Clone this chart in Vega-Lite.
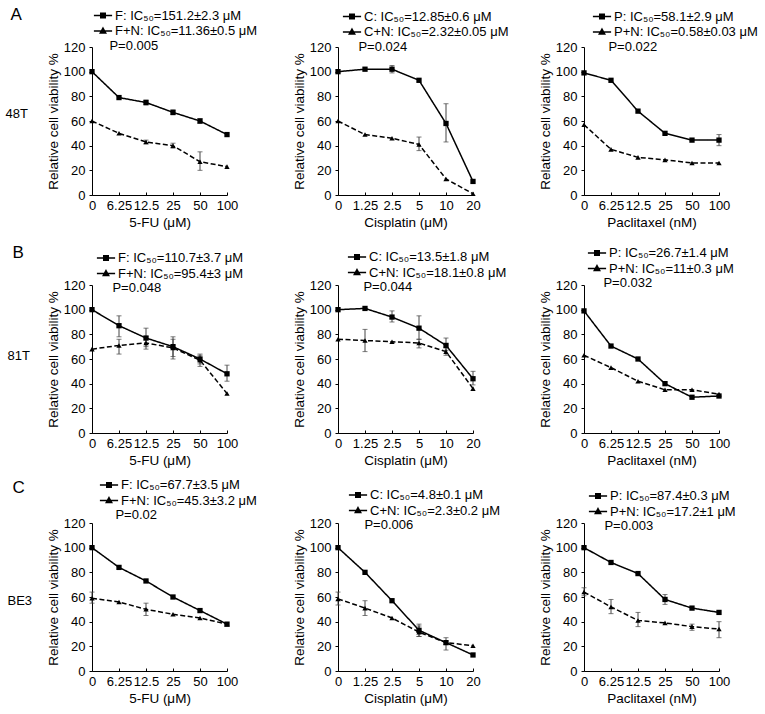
{
"$schema": "https://vega.github.io/schema/vega-lite/v6.json",
"padding": {"left": 5, "top": 5, "right": 5, "bottom": 5},
"background": "white",
"config": {
  "font": "Liberation Sans",
  "view": {"stroke": null},
  "axis": {"grid": false, "domainColor": "black", "tickColor": "black", "labelColor": "black", "titleColor": "black", "labelFontSize": 13, "titleFontSize": 13.5, "titleFontWeight": "normal"},
  "axisX": {"labelAngle": 0, "labelOverlap": false, "labelFlush": false, "labelBound": false, "tickSize": -3, "labelPadding": 7, "titlePadding": 3},
  "axisY": {"tickSize": 3, "labelPadding": 4, "titlePadding": 3},
  "legend": {"orient": "none", "titleOrient": "bottom", "titleFontWeight": "normal", "titleFontSize": 13, "labelFontSize": 13, "titleColor": "black", "labelColor": "black", "symbolSize": 196, "symbolOpacity": 1, "symbolStrokeWidth": 1.4, "rowPadding": 0.5, "labelOffset": 4, "titlePadding": 1, "padding": 0}
},
"datasets": {"all": [
{"p":"A1","d":"0","s":"F: IC₅₀=151.2±2.3 μM","v":100},
{"p":"A1","d":"6.25","s":"F: IC₅₀=151.2±2.3 μM","v":79},
{"p":"A1","d":"12.5","s":"F: IC₅₀=151.2±2.3 μM","v":75,"lo":73,"hi":77},
{"p":"A1","d":"25","s":"F: IC₅₀=151.2±2.3 μM","v":67,"lo":65,"hi":69},
{"p":"A1","d":"50","s":"F: IC₅₀=151.2±2.3 μM","v":60,"lo":58,"hi":62},
{"p":"A1","d":"100","s":"F: IC₅₀=151.2±2.3 μM","v":49},
{"p":"A1","d":"0","s":"F+N: IC₅₀=11.36±0.5 μM","v":60},
{"p":"A1","d":"6.25","s":"F+N: IC₅₀=11.36±0.5 μM","v":50},
{"p":"A1","d":"12.5","s":"F+N: IC₅₀=11.36±0.5 μM","v":43,"lo":41.5,"hi":44.5},
{"p":"A1","d":"25","s":"F+N: IC₅₀=11.36±0.5 μM","v":40,"lo":38,"hi":42},
{"p":"A1","d":"50","s":"F+N: IC₅₀=11.36±0.5 μM","v":27,"lo":20,"hi":35},
{"p":"A1","d":"100","s":"F+N: IC₅₀=11.36±0.5 μM","v":23},
{"p":"A2","d":"0","s":"C: IC₅₀=12.85±0.6 μM","v":100},
{"p":"A2","d":"1.25","s":"C: IC₅₀=12.85±0.6 μM","v":102},
{"p":"A2","d":"2.5","s":"C: IC₅₀=12.85±0.6 μM","v":102,"lo":99,"hi":105},
{"p":"A2","d":"5","s":"C: IC₅₀=12.85±0.6 μM","v":93},
{"p":"A2","d":"10","s":"C: IC₅₀=12.85±0.6 μM","v":58,"lo":43,"hi":74},
{"p":"A2","d":"20","s":"C: IC₅₀=12.85±0.6 μM","v":11},
{"p":"A2","d":"0","s":"C+N: IC₅₀=2.32±0.05 μM","v":60},
{"p":"A2","d":"1.25","s":"C+N: IC₅₀=2.32±0.05 μM","v":49},
{"p":"A2","d":"2.5","s":"C+N: IC₅₀=2.32±0.05 μM","v":46},
{"p":"A2","d":"5","s":"C+N: IC₅₀=2.32±0.05 μM","v":41,"lo":36,"hi":47},
{"p":"A2","d":"10","s":"C+N: IC₅₀=2.32±0.05 μM","v":13},
{"p":"A2","d":"20","s":"C+N: IC₅₀=2.32±0.05 μM","v":1},
{"p":"A3","d":"0","s":"P: IC₅₀=58.1±2.9 μM","v":99},
{"p":"A3","d":"6.25","s":"P: IC₅₀=58.1±2.9 μM","v":93},
{"p":"A3","d":"12.5","s":"P: IC₅₀=58.1±2.9 μM","v":68},
{"p":"A3","d":"25","s":"P: IC₅₀=58.1±2.9 μM","v":50},
{"p":"A3","d":"50","s":"P: IC₅₀=58.1±2.9 μM","v":44.5},
{"p":"A3","d":"100","s":"P: IC₅₀=58.1±2.9 μM","v":44.5,"lo":40,"hi":49},
{"p":"A3","d":"0","s":"P+N: IC₅₀=0.58±0.03 μM","v":57},
{"p":"A3","d":"6.25","s":"P+N: IC₅₀=0.58±0.03 μM","v":37},
{"p":"A3","d":"12.5","s":"P+N: IC₅₀=0.58±0.03 μM","v":30.5},
{"p":"A3","d":"25","s":"P+N: IC₅₀=0.58±0.03 μM","v":28.5},
{"p":"A3","d":"50","s":"P+N: IC₅₀=0.58±0.03 μM","v":26},
{"p":"A3","d":"100","s":"P+N: IC₅₀=0.58±0.03 μM","v":26},
{"p":"B1","d":"0","s":"F: IC₅₀=110.7±3.7 μM","v":100},
{"p":"B1","d":"6.25","s":"F: IC₅₀=110.7±3.7 μM","v":87,"lo":78,"hi":95},
{"p":"B1","d":"12.5","s":"F: IC₅₀=110.7±3.7 μM","v":77,"lo":70,"hi":85},
{"p":"B1","d":"25","s":"F: IC₅₀=110.7±3.7 μM","v":70,"lo":62,"hi":78},
{"p":"B1","d":"50","s":"F: IC₅₀=110.7±3.7 μM","v":60,"lo":56,"hi":64},
{"p":"B1","d":"100","s":"F: IC₅₀=110.7±3.7 μM","v":48,"lo":42,"hi":55},
{"p":"B1","d":"0","s":"F+N: IC₅₀=95.4±3 μM","v":68},
{"p":"B1","d":"6.25","s":"F+N: IC₅₀=95.4±3 μM","v":71,"lo":64,"hi":76},
{"p":"B1","d":"12.5","s":"F+N: IC₅₀=95.4±3 μM","v":73,"lo":68,"hi":78},
{"p":"B1","d":"25","s":"F+N: IC₅₀=95.4±3 μM","v":69,"lo":60,"hi":76},
{"p":"B1","d":"50","s":"F+N: IC₅₀=95.4±3 μM","v":59,"lo":54,"hi":63},
{"p":"B1","d":"100","s":"F+N: IC₅₀=95.4±3 μM","v":32},
{"p":"B2","d":"0","s":"C: IC₅₀=13.5±1.8 μM","v":100},
{"p":"B2","d":"1.25","s":"C: IC₅₀=13.5±1.8 μM","v":101},
{"p":"B2","d":"2.5","s":"C: IC₅₀=13.5±1.8 μM","v":94,"lo":90,"hi":99},
{"p":"B2","d":"5","s":"C: IC₅₀=13.5±1.8 μM","v":85,"lo":76,"hi":95},
{"p":"B2","d":"10","s":"C: IC₅₀=13.5±1.8 μM","v":71,"lo":67,"hi":77},
{"p":"B2","d":"20","s":"C: IC₅₀=13.5±1.8 μM","v":44,"lo":39,"hi":50},
{"p":"B2","d":"0","s":"C+N: IC₅₀=18.1±0.8 μM","v":76},
{"p":"B2","d":"1.25","s":"C+N: IC₅₀=18.1±0.8 μM","v":75,"lo":66,"hi":84},
{"p":"B2","d":"2.5","s":"C+N: IC₅₀=18.1±0.8 μM","v":74},
{"p":"B2","d":"5","s":"C+N: IC₅₀=18.1±0.8 μM","v":73,"lo":69,"hi":76},
{"p":"B2","d":"10","s":"C+N: IC₅₀=18.1±0.8 μM","v":66,"lo":63,"hi":69},
{"p":"B2","d":"20","s":"C+N: IC₅₀=18.1±0.8 μM","v":36},
{"p":"B3","d":"0","s":"P: IC₅₀=26.7±1.4 μM","v":99},
{"p":"B3","d":"6.25","s":"P: IC₅₀=26.7±1.4 μM","v":70.5},
{"p":"B3","d":"12.5","s":"P: IC₅₀=26.7±1.4 μM","v":60},
{"p":"B3","d":"25","s":"P: IC₅₀=26.7±1.4 μM","v":40},
{"p":"B3","d":"50","s":"P: IC₅₀=26.7±1.4 μM","v":29},
{"p":"B3","d":"100","s":"P: IC₅₀=26.7±1.4 μM","v":30},
{"p":"B3","d":"0","s":"P+N: IC₅₀=11±0.3 μM","v":63},
{"p":"B3","d":"6.25","s":"P+N: IC₅₀=11±0.3 μM","v":53},
{"p":"B3","d":"12.5","s":"P+N: IC₅₀=11±0.3 μM","v":42},
{"p":"B3","d":"25","s":"P+N: IC₅₀=11±0.3 μM","v":35},
{"p":"B3","d":"50","s":"P+N: IC₅₀=11±0.3 μM","v":35},
{"p":"B3","d":"100","s":"P+N: IC₅₀=11±0.3 μM","v":31.5},
{"p":"C1","d":"0","s":"F: IC₅₀=67.7±3.5 μM","v":100},
{"p":"C1","d":"6.25","s":"F: IC₅₀=67.7±3.5 μM","v":84},
{"p":"C1","d":"12.5","s":"F: IC₅₀=67.7±3.5 μM","v":73},
{"p":"C1","d":"25","s":"F: IC₅₀=67.7±3.5 μM","v":60},
{"p":"C1","d":"50","s":"F: IC₅₀=67.7±3.5 μM","v":49},
{"p":"C1","d":"100","s":"F: IC₅₀=67.7±3.5 μM","v":38},
{"p":"C1","d":"0","s":"F+N: IC₅₀=45.3±3.2 μM","v":59,"lo":55,"hi":64},
{"p":"C1","d":"6.25","s":"F+N: IC₅₀=45.3±3.2 μM","v":56},
{"p":"C1","d":"12.5","s":"F+N: IC₅₀=45.3±3.2 μM","v":50,"lo":45,"hi":55},
{"p":"C1","d":"25","s":"F+N: IC₅₀=45.3±3.2 μM","v":46},
{"p":"C1","d":"50","s":"F+N: IC₅₀=45.3±3.2 μM","v":43},
{"p":"C1","d":"100","s":"F+N: IC₅₀=45.3±3.2 μM","v":38},
{"p":"C2","d":"0","s":"C: IC₅₀=4.8±0.1 μM","v":100},
{"p":"C2","d":"1.25","s":"C: IC₅₀=4.8±0.1 μM","v":80},
{"p":"C2","d":"2.5","s":"C: IC₅₀=4.8±0.1 μM","v":57},
{"p":"C2","d":"5","s":"C: IC₅₀=4.8±0.1 μM","v":33,"lo":28,"hi":38},
{"p":"C2","d":"10","s":"C: IC₅₀=4.8±0.1 μM","v":23},
{"p":"C2","d":"20","s":"C: IC₅₀=4.8±0.1 μM","v":13},
{"p":"C2","d":"0","s":"C+N: IC₅₀=2.3±0.2 μM","v":58.5,"lo":53.5,"hi":64},
{"p":"C2","d":"1.25","s":"C+N: IC₅₀=2.3±0.2 μM","v":51,"lo":45,"hi":57},
{"p":"C2","d":"2.5","s":"C+N: IC₅₀=2.3±0.2 μM","v":43},
{"p":"C2","d":"5","s":"C+N: IC₅₀=2.3±0.2 μM","v":31.5,"lo":28,"hi":36.5},
{"p":"C2","d":"10","s":"C+N: IC₅₀=2.3±0.2 μM","v":23,"lo":17,"hi":27},
{"p":"C2","d":"20","s":"C+N: IC₅₀=2.3±0.2 μM","v":20.5},
{"p":"C3","d":"0","s":"P: IC₅₀=87.4±0.3 μM","v":100},
{"p":"C3","d":"6.25","s":"P: IC₅₀=87.4±0.3 μM","v":88},
{"p":"C3","d":"12.5","s":"P: IC₅₀=87.4±0.3 μM","v":79},
{"p":"C3","d":"25","s":"P: IC₅₀=87.4±0.3 μM","v":58,"lo":54,"hi":62},
{"p":"C3","d":"50","s":"P: IC₅₀=87.4±0.3 μM","v":51},
{"p":"C3","d":"100","s":"P: IC₅₀=87.4±0.3 μM","v":47.5},
{"p":"C3","d":"0","s":"P+N: IC₅₀=17.2±1 μM","v":64,"lo":61,"hi":67.5},
{"p":"C3","d":"6.25","s":"P+N: IC₅₀=17.2±1 μM","v":52,"lo":46.5,"hi":58},
{"p":"C3","d":"12.5","s":"P+N: IC₅₀=17.2±1 μM","v":41,"lo":36,"hi":47.5},
{"p":"C3","d":"25","s":"P+N: IC₅₀=17.2±1 μM","v":39},
{"p":"C3","d":"50","s":"P+N: IC₅₀=17.2±1 μM","v":36,"lo":33,"hi":38},
{"p":"C3","d":"100","s":"P+N: IC₅₀=17.2±1 μM","v":34,"lo":27,"hi":40}
]},
"columns": 3,
"bounds": "flush",
"spacing": {"row": 90, "column": 111},
"resolve": {"scale": {"shape": "independent", "strokeDash": "independent"}, "legend": {"shape": "independent", "strokeDash": "independent"}},
"concat": [
{"width":135,"height":148,"data":{"name":"all"},"transform":[{"filter":"datum.p=='A1'"}],
 "encoding":{"x":{"field":"d","type":"ordinal","scale":{"type":"point","padding":0,"domain":["0","6.25","12.5","25","50","100"]},"axis":{"title":"5-FU (μM)"}}},
 "layer":[
  {"mark":{"type":"line","color":"black","strokeWidth":1.5},"encoding":{"y":{"field":"v","type":"quantitative","scale":{"domain":[0,120],"nice":false},"axis":{"title":"Relative cell viability %","values":[0,20,40,60,80,100,120]}},"strokeDash":{"field":"s","type":"nominal","sort":null,"scale":{"range":[[1,0],[5,2.5]]},"legend":null}}},
  {"transform":[{"filter":"datum.lo != null"}],"mark":{"type":"rule","color":"#444"},"encoding":{"y":{"field":"lo","type":"quantitative","axis":{"orient":"left","labels":false,"ticks":false,"domain":false,"title":"A","titleAngle":0,"titleAlign":"left","titleBaseline":"middle","titleX":-82,"titleY":-32.5,"titleFontSize":17}},"y2":{"field":"hi"}}},
  {"transform":[{"filter":"datum.lo != null"}],"mark":{"type":"tick","orient":"horizontal","color":"#444","size":5,"thickness":1},"encoding":{"y":{"field":"lo","type":"quantitative","axis":null}}},
  {"transform":[{"filter":"datum.lo != null"}],"mark":{"type":"tick","orient":"horizontal","color":"#444","size":5,"thickness":1},"encoding":{"y":{"field":"hi","type":"quantitative","axis":null}}},
  {"mark":{"type":"point","filled":true,"color":"black","opacity":1,"size":28},"encoding":{"y":{"field":"v","type":"quantitative","axis":{"orient":"left","labels":false,"ticks":false,"domain":false,"title":"48T","titleAngle":0,"titleAlign":"left","titleBaseline":"middle","titleX":-87,"titleY":66.5,"titleFontSize":13}},
   "shape":{"field":"s","type":"nominal","sort":null,"scale":{"range":["square","triangle-up"]},"legend":null}}},
  {"mark":{"type":"point","filled":false,"color":"black","opacity":0},"encoding":{"y":{"field":"v","type":"quantitative","axis":null},
   "shape":{"field":"s","type":"nominal","sort":null,"scale":{"range":["M-1.3,0H1.3M-0.33,-0.33H0.33V0.33H-0.33ZM-0.15,-0.15H0.15V0.15H-0.15Z","M-1.3,0H1.3M0,-0.42L0.4,0.3H-0.4ZM0,-0.2L0.19,0.14H-0.19Z"]},"legend":{"title":"\u200b\u00a0\u00a0\u00a0\u00a0P=0.005","legendX":3,"legendY":-39.5}}}}
 ],
 "resolve":{"axis":{"y":"independent"},"scale":{"shape":"independent"}}},
{"width":135,"height":148,"data":{"name":"all"},"transform":[{"filter":"datum.p=='A2'"}],
 "encoding":{"x":{"field":"d","type":"ordinal","scale":{"type":"point","padding":0,"domain":["0","1.25","2.5","5","10","20"]},"axis":{"title":"Cisplatin (μM)"}}},
 "layer":[
  {"mark":{"type":"line","color":"black","strokeWidth":1.5},"encoding":{"y":{"field":"v","type":"quantitative","scale":{"domain":[0,120],"nice":false},"axis":{"title":"Relative cell viability %","values":[0,20,40,60,80,100,120]}},"strokeDash":{"field":"s","type":"nominal","sort":null,"scale":{"range":[[1,0],[5,2.5]]},"legend":null}}},
  {"transform":[{"filter":"datum.lo != null"}],"mark":{"type":"rule","color":"#444"},"encoding":{"y":{"field":"lo","type":"quantitative","axis":null},"y2":{"field":"hi"}}},
  {"transform":[{"filter":"datum.lo != null"}],"mark":{"type":"tick","orient":"horizontal","color":"#444","size":5,"thickness":1},"encoding":{"y":{"field":"lo","type":"quantitative","axis":null}}},
  {"transform":[{"filter":"datum.lo != null"}],"mark":{"type":"tick","orient":"horizontal","color":"#444","size":5,"thickness":1},"encoding":{"y":{"field":"hi","type":"quantitative","axis":null}}},
  {"mark":{"type":"point","filled":true,"color":"black","opacity":1,"size":28},"encoding":{"y":{"field":"v","type":"quantitative","axis":null},
   "shape":{"field":"s","type":"nominal","sort":null,"scale":{"range":["square","triangle-up"]},"legend":null}}},
  {"mark":{"type":"point","filled":false,"color":"black","opacity":0},"encoding":{"y":{"field":"v","type":"quantitative","axis":null},
   "shape":{"field":"s","type":"nominal","sort":null,"scale":{"range":["M-1.3,0H1.3M-0.33,-0.33H0.33V0.33H-0.33ZM-0.15,-0.15H0.15V0.15H-0.15Z","M-1.3,0H1.3M0,-0.42L0.4,0.3H-0.4ZM0,-0.2L0.19,0.14H-0.19Z"]},"legend":{"title":"\u200b\u00a0\u00a0\u00a0\u00a0P=0.024","legendX":6,"legendY":-38.5}}}}
 ],
 "resolve":{"axis":{"y":"independent"},"scale":{"shape":"independent"}}},
{"width":135,"height":148,"data":{"name":"all"},"transform":[{"filter":"datum.p=='A3'"}],
 "encoding":{"x":{"field":"d","type":"ordinal","scale":{"type":"point","padding":0,"domain":["0","6.25","12.5","25","50","100"]},"axis":{"title":"Paclitaxel (nM)"}}},
 "layer":[
  {"mark":{"type":"line","color":"black","strokeWidth":1.5},"encoding":{"y":{"field":"v","type":"quantitative","scale":{"domain":[0,120],"nice":false},"axis":{"title":"Relative cell viability %","values":[0,20,40,60,80,100,120]}},"strokeDash":{"field":"s","type":"nominal","sort":null,"scale":{"range":[[1,0],[5,2.5]]},"legend":null}}},
  {"transform":[{"filter":"datum.lo != null"}],"mark":{"type":"rule","color":"#444"},"encoding":{"y":{"field":"lo","type":"quantitative","axis":null},"y2":{"field":"hi"}}},
  {"transform":[{"filter":"datum.lo != null"}],"mark":{"type":"tick","orient":"horizontal","color":"#444","size":5,"thickness":1},"encoding":{"y":{"field":"lo","type":"quantitative","axis":null}}},
  {"transform":[{"filter":"datum.lo != null"}],"mark":{"type":"tick","orient":"horizontal","color":"#444","size":5,"thickness":1},"encoding":{"y":{"field":"hi","type":"quantitative","axis":null}}},
  {"mark":{"type":"point","filled":true,"color":"black","opacity":1,"size":28},"encoding":{"y":{"field":"v","type":"quantitative","axis":null},
   "shape":{"field":"s","type":"nominal","sort":null,"scale":{"range":["square","triangle-up"]},"legend":null}}},
  {"mark":{"type":"point","filled":false,"color":"black","opacity":0},"encoding":{"y":{"field":"v","type":"quantitative","axis":null},
   "shape":{"field":"s","type":"nominal","sort":null,"scale":{"range":["M-1.3,0H1.3M-0.33,-0.33H0.33V0.33H-0.33ZM-0.15,-0.15H0.15V0.15H-0.15Z","M-1.3,0H1.3M0,-0.42L0.4,0.3H-0.4ZM0,-0.2L0.19,0.14H-0.19Z"]},"legend":{"title":"\u200b\u00a0\u00a0\u00a0\u00a0P=0.022","legendX":10,"legendY":-38.5}}}}
 ],
 "resolve":{"axis":{"y":"independent"},"scale":{"shape":"independent"}}},
{"width":135,"height":148,"data":{"name":"all"},"transform":[{"filter":"datum.p=='B1'"}],
 "encoding":{"x":{"field":"d","type":"ordinal","scale":{"type":"point","padding":0,"domain":["0","6.25","12.5","25","50","100"]},"axis":{"title":"5-FU (μM)"}}},
 "layer":[
  {"mark":{"type":"line","color":"black","strokeWidth":1.5},"encoding":{"y":{"field":"v","type":"quantitative","scale":{"domain":[0,120],"nice":false},"axis":{"title":"Relative cell viability %","values":[0,20,40,60,80,100,120]}},"strokeDash":{"field":"s","type":"nominal","sort":null,"scale":{"range":[[1,0],[5,2.5]]},"legend":null}}},
  {"transform":[{"filter":"datum.lo != null"}],"mark":{"type":"rule","color":"#444"},"encoding":{"y":{"field":"lo","type":"quantitative","axis":{"orient":"left","labels":false,"ticks":false,"domain":false,"title":"B","titleAngle":0,"titleAlign":"left","titleBaseline":"middle","titleX":-80,"titleY":-32.5,"titleFontSize":17}},"y2":{"field":"hi"}}},
  {"transform":[{"filter":"datum.lo != null"}],"mark":{"type":"tick","orient":"horizontal","color":"#444","size":5,"thickness":1},"encoding":{"y":{"field":"lo","type":"quantitative","axis":null}}},
  {"transform":[{"filter":"datum.lo != null"}],"mark":{"type":"tick","orient":"horizontal","color":"#444","size":5,"thickness":1},"encoding":{"y":{"field":"hi","type":"quantitative","axis":null}}},
  {"mark":{"type":"point","filled":true,"color":"black","opacity":1,"size":28},"encoding":{"y":{"field":"v","type":"quantitative","axis":{"orient":"left","labels":false,"ticks":false,"domain":false,"title":"81T","titleAngle":0,"titleAlign":"left","titleBaseline":"middle","titleX":-85,"titleY":70,"titleFontSize":13}},
   "shape":{"field":"s","type":"nominal","sort":null,"scale":{"range":["square","triangle-up"]},"legend":null}}},
  {"mark":{"type":"point","filled":false,"color":"black","opacity":0},"encoding":{"y":{"field":"v","type":"quantitative","axis":null},
   "shape":{"field":"s","type":"nominal","sort":null,"scale":{"range":["M-1.3,0H1.3M-0.33,-0.33H0.33V0.33H-0.33ZM-0.15,-0.15H0.15V0.15H-0.15Z","M-1.3,0H1.3M0,-0.42L0.4,0.3H-0.4ZM0,-0.2L0.19,0.14H-0.19Z"]},"legend":{"title":"\u200b\u00a0\u00a0\u00a0\u00a0P=0.048","legendX":6,"legendY":-35}}}}
 ],
 "resolve":{"axis":{"y":"independent"},"scale":{"shape":"independent"}}},
{"width":135,"height":148,"data":{"name":"all"},"transform":[{"filter":"datum.p=='B2'"}],
 "encoding":{"x":{"field":"d","type":"ordinal","scale":{"type":"point","padding":0,"domain":["0","1.25","2.5","5","10","20"]},"axis":{"title":"Cisplatin (μM)"}}},
 "layer":[
  {"mark":{"type":"line","color":"black","strokeWidth":1.5},"encoding":{"y":{"field":"v","type":"quantitative","scale":{"domain":[0,120],"nice":false},"axis":{"title":"Relative cell viability %","values":[0,20,40,60,80,100,120]}},"strokeDash":{"field":"s","type":"nominal","sort":null,"scale":{"range":[[1,0],[5,2.5]]},"legend":null}}},
  {"transform":[{"filter":"datum.lo != null"}],"mark":{"type":"rule","color":"#444"},"encoding":{"y":{"field":"lo","type":"quantitative","axis":null},"y2":{"field":"hi"}}},
  {"transform":[{"filter":"datum.lo != null"}],"mark":{"type":"tick","orient":"horizontal","color":"#444","size":5,"thickness":1},"encoding":{"y":{"field":"lo","type":"quantitative","axis":null}}},
  {"transform":[{"filter":"datum.lo != null"}],"mark":{"type":"tick","orient":"horizontal","color":"#444","size":5,"thickness":1},"encoding":{"y":{"field":"hi","type":"quantitative","axis":null}}},
  {"mark":{"type":"point","filled":true,"color":"black","opacity":1,"size":28},"encoding":{"y":{"field":"v","type":"quantitative","axis":null},
   "shape":{"field":"s","type":"nominal","sort":null,"scale":{"range":["square","triangle-up"]},"legend":null}}},
  {"mark":{"type":"point","filled":false,"color":"black","opacity":0},"encoding":{"y":{"field":"v","type":"quantitative","axis":null},
   "shape":{"field":"s","type":"nominal","sort":null,"scale":{"range":["M-1.3,0H1.3M-0.33,-0.33H0.33V0.33H-0.33ZM-0.15,-0.15H0.15V0.15H-0.15Z","M-1.3,0H1.3M0,-0.42L0.4,0.3H-0.4ZM0,-0.2L0.19,0.14H-0.19Z"]},"legend":{"title":"\u200b\u00a0\u00a0\u00a0\u00a0P=0.044","legendX":11,"legendY":-36}}}}
 ],
 "resolve":{"axis":{"y":"independent"},"scale":{"shape":"independent"}}},
{"width":135,"height":148,"data":{"name":"all"},"transform":[{"filter":"datum.p=='B3'"}],
 "encoding":{"x":{"field":"d","type":"ordinal","scale":{"type":"point","padding":0,"domain":["0","6.25","12.5","25","50","100"]},"axis":{"title":"Paclitaxel (nM)"}}},
 "layer":[
  {"mark":{"type":"line","color":"black","strokeWidth":1.5},"encoding":{"y":{"field":"v","type":"quantitative","scale":{"domain":[0,120],"nice":false},"axis":{"title":"Relative cell viability %","values":[0,20,40,60,80,100,120]}},"strokeDash":{"field":"s","type":"nominal","sort":null,"scale":{"range":[[1,0],[5,2.5]]},"legend":null}}},
  {"transform":[{"filter":"datum.lo != null"}],"mark":{"type":"rule","color":"#444"},"encoding":{"y":{"field":"lo","type":"quantitative","axis":null},"y2":{"field":"hi"}}},
  {"transform":[{"filter":"datum.lo != null"}],"mark":{"type":"tick","orient":"horizontal","color":"#444","size":5,"thickness":1},"encoding":{"y":{"field":"lo","type":"quantitative","axis":null}}},
  {"transform":[{"filter":"datum.lo != null"}],"mark":{"type":"tick","orient":"horizontal","color":"#444","size":5,"thickness":1},"encoding":{"y":{"field":"hi","type":"quantitative","axis":null}}},
  {"mark":{"type":"point","filled":true,"color":"black","opacity":1,"size":28},"encoding":{"y":{"field":"v","type":"quantitative","axis":null},
   "shape":{"field":"s","type":"nominal","sort":null,"scale":{"range":["square","triangle-up"]},"legend":null}}},
  {"mark":{"type":"point","filled":false,"color":"black","opacity":0},"encoding":{"y":{"field":"v","type":"quantitative","axis":null},
   "shape":{"field":"s","type":"nominal","sort":null,"scale":{"range":["M-1.3,0H1.3M-0.33,-0.33H0.33V0.33H-0.33ZM-0.15,-0.15H0.15V0.15H-0.15Z","M-1.3,0H1.3M0,-0.42L0.4,0.3H-0.4ZM0,-0.2L0.19,0.14H-0.19Z"]},"legend":{"title":"\u200b\u00a0\u00a0\u00a0\u00a0P=0.032","legendX":5,"legendY":-40}}}}
 ],
 "resolve":{"axis":{"y":"independent"},"scale":{"shape":"independent"}}},
{"width":135,"height":148,"data":{"name":"all"},"transform":[{"filter":"datum.p=='C1'"}],
 "encoding":{"x":{"field":"d","type":"ordinal","scale":{"type":"point","padding":0,"domain":["0","6.25","12.5","25","50","100"]},"axis":{"title":"5-FU (μM)"}}},
 "layer":[
  {"mark":{"type":"line","color":"black","strokeWidth":1.5},"encoding":{"y":{"field":"v","type":"quantitative","scale":{"domain":[0,120],"nice":false},"axis":{"title":"Relative cell viability %","values":[0,20,40,60,80,100,120]}},"strokeDash":{"field":"s","type":"nominal","sort":null,"scale":{"range":[[1,0],[5,2.5]]},"legend":null}}},
  {"transform":[{"filter":"datum.lo != null"}],"mark":{"type":"rule","color":"#444"},"encoding":{"y":{"field":"lo","type":"quantitative","axis":{"orient":"left","labels":false,"ticks":false,"domain":false,"title":"C","titleAngle":0,"titleAlign":"left","titleBaseline":"middle","titleX":-80,"titleY":-36,"titleFontSize":17}},"y2":{"field":"hi"}}},
  {"transform":[{"filter":"datum.lo != null"}],"mark":{"type":"tick","orient":"horizontal","color":"#444","size":5,"thickness":1},"encoding":{"y":{"field":"lo","type":"quantitative","axis":null}}},
  {"transform":[{"filter":"datum.lo != null"}],"mark":{"type":"tick","orient":"horizontal","color":"#444","size":5,"thickness":1},"encoding":{"y":{"field":"hi","type":"quantitative","axis":null}}},
  {"mark":{"type":"point","filled":true,"color":"black","opacity":1,"size":28},"encoding":{"y":{"field":"v","type":"quantitative","axis":{"orient":"left","labels":false,"ticks":false,"domain":false,"title":"BE3","titleAngle":0,"titleAlign":"left","titleBaseline":"middle","titleX":-85,"titleY":77,"titleFontSize":13}},
   "shape":{"field":"s","type":"nominal","sort":null,"scale":{"range":["square","triangle-up"]},"legend":null}}},
  {"mark":{"type":"point","filled":false,"color":"black","opacity":0},"encoding":{"y":{"field":"v","type":"quantitative","axis":null},
   "shape":{"field":"s","type":"nominal","sort":null,"scale":{"range":["M-1.3,0H1.3M-0.33,-0.33H0.33V0.33H-0.33ZM-0.15,-0.15H0.15V0.15H-0.15Z","M-1.3,0H1.3M0,-0.42L0.4,0.3H-0.4ZM0,-0.2L0.19,0.14H-0.19Z"]},"legend":{"title":"\u200b\u00a0\u00a0\u00a0\u00a0P=0.02","legendX":9,"legendY":-46}}}}
 ],
 "resolve":{"axis":{"y":"independent"},"scale":{"shape":"independent"}}},
{"width":135,"height":148,"data":{"name":"all"},"transform":[{"filter":"datum.p=='C2'"}],
 "encoding":{"x":{"field":"d","type":"ordinal","scale":{"type":"point","padding":0,"domain":["0","1.25","2.5","5","10","20"]},"axis":{"title":"Cisplatin (μM)"}}},
 "layer":[
  {"mark":{"type":"line","color":"black","strokeWidth":1.5},"encoding":{"y":{"field":"v","type":"quantitative","scale":{"domain":[0,120],"nice":false},"axis":{"title":"Relative cell viability %","values":[0,20,40,60,80,100,120]}},"strokeDash":{"field":"s","type":"nominal","sort":null,"scale":{"range":[[1,0],[5,2.5]]},"legend":null}}},
  {"transform":[{"filter":"datum.lo != null"}],"mark":{"type":"rule","color":"#444"},"encoding":{"y":{"field":"lo","type":"quantitative","axis":null},"y2":{"field":"hi"}}},
  {"transform":[{"filter":"datum.lo != null"}],"mark":{"type":"tick","orient":"horizontal","color":"#444","size":5,"thickness":1},"encoding":{"y":{"field":"lo","type":"quantitative","axis":null}}},
  {"transform":[{"filter":"datum.lo != null"}],"mark":{"type":"tick","orient":"horizontal","color":"#444","size":5,"thickness":1},"encoding":{"y":{"field":"hi","type":"quantitative","axis":null}}},
  {"mark":{"type":"point","filled":true,"color":"black","opacity":1,"size":28},"encoding":{"y":{"field":"v","type":"quantitative","axis":null},
   "shape":{"field":"s","type":"nominal","sort":null,"scale":{"range":["square","triangle-up"]},"legend":null}}},
  {"mark":{"type":"point","filled":false,"color":"black","opacity":0},"encoding":{"y":{"field":"v","type":"quantitative","axis":null},
   "shape":{"field":"s","type":"nominal","sort":null,"scale":{"range":["M-1.3,0H1.3M-0.33,-0.33H0.33V0.33H-0.33ZM-0.15,-0.15H0.15V0.15H-0.15Z","M-1.3,0H1.3M0,-0.42L0.4,0.3H-0.4ZM0,-0.2L0.19,0.14H-0.19Z"]},"legend":{"title":"\u200b\u00a0\u00a0\u00a0\u00a0P=0.006","legendX":12,"legendY":-36}}}}
 ],
 "resolve":{"axis":{"y":"independent"},"scale":{"shape":"independent"}}},
{"width":135,"height":148,"data":{"name":"all"},"transform":[{"filter":"datum.p=='C3'"}],
 "encoding":{"x":{"field":"d","type":"ordinal","scale":{"type":"point","padding":0,"domain":["0","6.25","12.5","25","50","100"]},"axis":{"title":"Paclitaxel (nM)"}}},
 "layer":[
  {"mark":{"type":"line","color":"black","strokeWidth":1.5},"encoding":{"y":{"field":"v","type":"quantitative","scale":{"domain":[0,120],"nice":false},"axis":{"title":"Relative cell viability %","values":[0,20,40,60,80,100,120]}},"strokeDash":{"field":"s","type":"nominal","sort":null,"scale":{"range":[[1,0],[5,2.5]]},"legend":null}}},
  {"transform":[{"filter":"datum.lo != null"}],"mark":{"type":"rule","color":"#444"},"encoding":{"y":{"field":"lo","type":"quantitative","axis":null},"y2":{"field":"hi"}}},
  {"transform":[{"filter":"datum.lo != null"}],"mark":{"type":"tick","orient":"horizontal","color":"#444","size":5,"thickness":1},"encoding":{"y":{"field":"lo","type":"quantitative","axis":null}}},
  {"transform":[{"filter":"datum.lo != null"}],"mark":{"type":"tick","orient":"horizontal","color":"#444","size":5,"thickness":1},"encoding":{"y":{"field":"hi","type":"quantitative","axis":null}}},
  {"mark":{"type":"point","filled":true,"color":"black","opacity":1,"size":28},"encoding":{"y":{"field":"v","type":"quantitative","axis":null},
   "shape":{"field":"s","type":"nominal","sort":null,"scale":{"range":["square","triangle-up"]},"legend":null}}},
  {"mark":{"type":"point","filled":false,"color":"black","opacity":0},"encoding":{"y":{"field":"v","type":"quantitative","axis":null},
   "shape":{"field":"s","type":"nominal","sort":null,"scale":{"range":["M-1.3,0H1.3M-0.33,-0.33H0.33V0.33H-0.33ZM-0.15,-0.15H0.15V0.15H-0.15Z","M-1.3,0H1.3M0,-0.42L0.4,0.3H-0.4ZM0,-0.2L0.19,0.14H-0.19Z"]},"legend":{"title":"\u200b\u00a0\u00a0\u00a0\u00a0P=0.003","legendX":6,"legendY":-35}}}}
 ],
 "resolve":{"axis":{"y":"independent"},"scale":{"shape":"independent"}}}
]
}
